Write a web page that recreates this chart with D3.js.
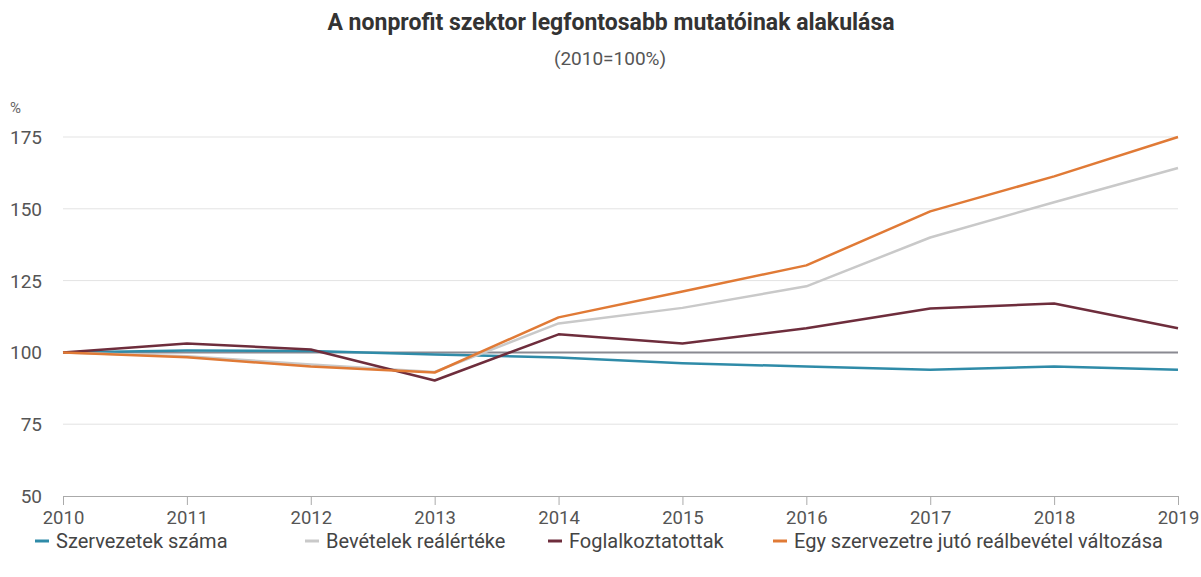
<!DOCTYPE html>
<html>
<head>
<meta charset="utf-8">
<script src="https://cdn.jsdelivr.net/npm/d3@7"></script>
<style>
body{margin:0;background:#fff;}
text{font-family:Roboto, "Noto Sans", sans-serif;}
</style>
</head>
<body>
<svg id="chart" width="1201" height="577"></svg>
<script>
const years = [2010,2011,2012,2013,2014,2015,2016,2017,2018,2019];
const szervezetek = [100,100.7,100.5,99.3,98.2,96.2,95.1,94.0,95.1,94.0];
const bevetelek = [100,98.7,95.8,93.2,110.1,115.5,123.0,140.0,152.3,164.2];
const foglalkoztatottak = [100,103.1,101.0,90.2,106.3,103.1,108.4,115.3,117.0,108.4];
const egySzervezetre = [100,98.3,95.1,93.0,112.2,121.2,130.3,149.1,161.3,175.0];
const yTicks = [50,75,100,125,150,175];
const seriesNames = ["Szervezetek száma","Bevételek reálértéke","Foglalkoztatottak","Egy szervezetre jutó reálbevétel változása"];
const seriesColors = ["#2f8ba8","#c9c9c9","#6e2d3c","#e07a36"];
const seriesData = [szervezetek,bevetelek,foglalkoztatottak,egySzervezetre];

const svg = d3.select("#chart");
const x = d3.scaleLinear().domain([2010,2019]).range([63,1178]);
const y = d3.scaleLinear().domain([50,175]).range([496,137]);

svg.append("text").attr("x",611).attr("y",30).attr("text-anchor","middle")
  .attr("font-size",23).attr("font-weight","bold").attr("fill","#333")
  .text("A nonprofit szektor legfontosabb mutatóinak alakulása");
svg.append("text").attr("x",610).attr("y",65).attr("text-anchor","middle")
  .attr("font-size",19).attr("fill","#555").text("(2010=100%)");
svg.append("text").attr("x",10).attr("y",113).attr("font-size",15).attr("fill","#666").text("%");

// gridlines
svg.append("g").selectAll("line").data(yTicks.filter(d=>d>50)).join("line")
  .attr("x1",63).attr("x2",1178).attr("y1",d=>y(d)).attr("y2",d=>y(d))
  .attr("stroke","#e3e3e3").attr("stroke-width",1);

// y labels
svg.append("g").selectAll("text").data(yTicks).join("text")
  .attr("x",42).attr("y",d=>y(d)+7).attr("text-anchor","end")
  .attr("font-size",19).attr("fill","#555").text(d=>d);

// x axis
const xAxis = d3.axisBottom(x).tickValues(years).tickFormat(d3.format("d")).tickSize(9).tickPadding(6);
const gx = svg.append("g").attr("transform","translate(0,496)").call(xAxis);
gx.select(".domain").attr("stroke","#aaa");
gx.selectAll(".tick line").attr("stroke","#aaa");
gx.selectAll(".tick text").attr("font-size",18.5).attr("fill","#555").attr("font-family","Roboto, sans-serif");

// reference line at 100
svg.append("line").attr("x1",63).attr("x2",1178).attr("y1",y(100)).attr("y2",y(100))
  .attr("stroke","#8a8a92").attr("stroke-width",2);

const line = d3.line().x((d,i)=>x(years[i])).y(d=>y(d));
const order = [0,1,2,3];
svg.append("g").selectAll("path").data(order).join("path")
  .attr("d",i=>line(seriesData[i])).attr("fill","none")
  .attr("stroke",i=>seriesColors[i]).attr("stroke-width",2.5)
  .attr("stroke-linejoin","round");

// legend
const legendX = [35,305,548,773];
const lg = svg.append("g").selectAll("g").data(seriesNames).join("g")
  .attr("transform",(d,i)=>`translate(${legendX[i]},541)`);
lg.append("line").attr("x1",0).attr("x2",14).attr("y1",0).attr("y2",0)
  .attr("stroke",(d,i)=>seriesColors[i]).attr("stroke-width",3);
lg.append("text").attr("x",21).attr("y",7).attr("font-size",20).attr("fill","#444").text(d=>d);
</script>
</body>
</html>
